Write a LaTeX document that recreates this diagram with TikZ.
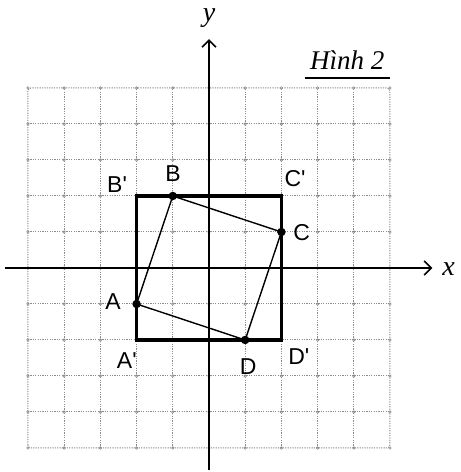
\documentclass[tikz,border=0pt]{standalone}
\usepackage{fontspec}
\setmainfont{Liberation Sans}[Ligatures=TeXOff]
\newfontfamily\tnr{Liberation Serif}
\usetikzlibrary{arrows.meta}
\begin{document}
\begin{tikzpicture}[x=36.2pt,y=36pt,
  gridline/.style={black!45,line width=1pt,dash pattern=on 1.2pt off 1.2pt},
  gridknot/.style={black!45,line width=0.6pt},
  axis/.style={line width=1.6pt,-{Straight Barb[length=7pt,width=14pt,line width=1.6pt]}},
  bigsq/.style={line width=3.2pt,line join=miter},
  smallsq/.style={line width=1.4pt},
  pt/.style={circle,fill=black,inner sep=0pt,minimum size=8.5pt},
  lbl/.style={font=\fontsize{23}{23}\selectfont,inner sep=0pt},
  axlbl/.style={font=\tnr\itshape\fontsize{28}{28}\selectfont,inner sep=0pt}]
\useasboundingbox (-5.773,-5.667) rectangle (6.961,7.444);
% grid
\foreach \i in {-4,...,4}{
  \draw[gridline] (\i,-5) -- (\i,5);
  \draw[gridline] (-5,\i) -- (5,\i);
}
\draw[gridline,rounded corners=3pt] (-5,-5) rectangle (5,5);
\foreach \i in {-5,...,5}{\foreach \j in {-5,...,5}{
  \draw[gridknot] (\i,\j) circle (1.3pt);
}}
% axes
\coordinate (xs) at (-5.64,0);
\coordinate (xe) at (6.17,0);
\coordinate (ys) at (0,-5.62);
\coordinate (ye) at (0,6.36);
\draw[axis] (xs) -- (xe);
\draw[axis] (ys) -- (ye);
\node[axlbl] (xl) at (6.62,-0.03) {x};
\node[axlbl] (yl) at (0,6.93) {y};
% title
\node[font=\tnr\itshape\fontsize{27}{27}\selectfont,inner sep=0pt,anchor=base] (title) at (3.82,5.52) {Hình 2};
\coordinate (ul1) at (2.65,5.27);
\coordinate (ul2) at (5.0,5.27);
\draw[line width=1.8pt] (ul1) -- (ul2);
% big square
\coordinate (Ap) at (-2,-2);
\coordinate (Bp) at (-2,2);
\coordinate (Cp) at (2,2);
\coordinate (Dp) at (2,-2);
\draw[bigsq] (Ap) -- (Bp) -- (Cp) -- (Dp) -- cycle;
% rotated square
\node[pt] (A) at (-2,-1) {};
\node[pt] (B) at (-1,2) {};
\node[pt] (C) at (2,1) {};
\node[pt] (D) at (1,-2) {};
\draw[smallsq] (A.center) -- (B.center) -- (C.center) -- (D.center) -- cycle;
% labels
\node[lbl] (lBp) at (-2.54,2.33) {B'};
\node[lbl] (lB) at (-0.99,2.61) {B};
\node[lbl] (lCp) at (2.38,2.47) {C'};
\node[lbl] (lC) at (2.56,0.97) {C};
\node[lbl] (lA) at (-2.65,-0.92) {A};
\node[lbl] (lAp) at (-2.27,-2.58) {A'};
\node[lbl] (lD) at (1.08,-2.75) {D};
\node[lbl] (lDp) at (2.48,-2.47) {D'};
\end{tikzpicture}
\end{document}
